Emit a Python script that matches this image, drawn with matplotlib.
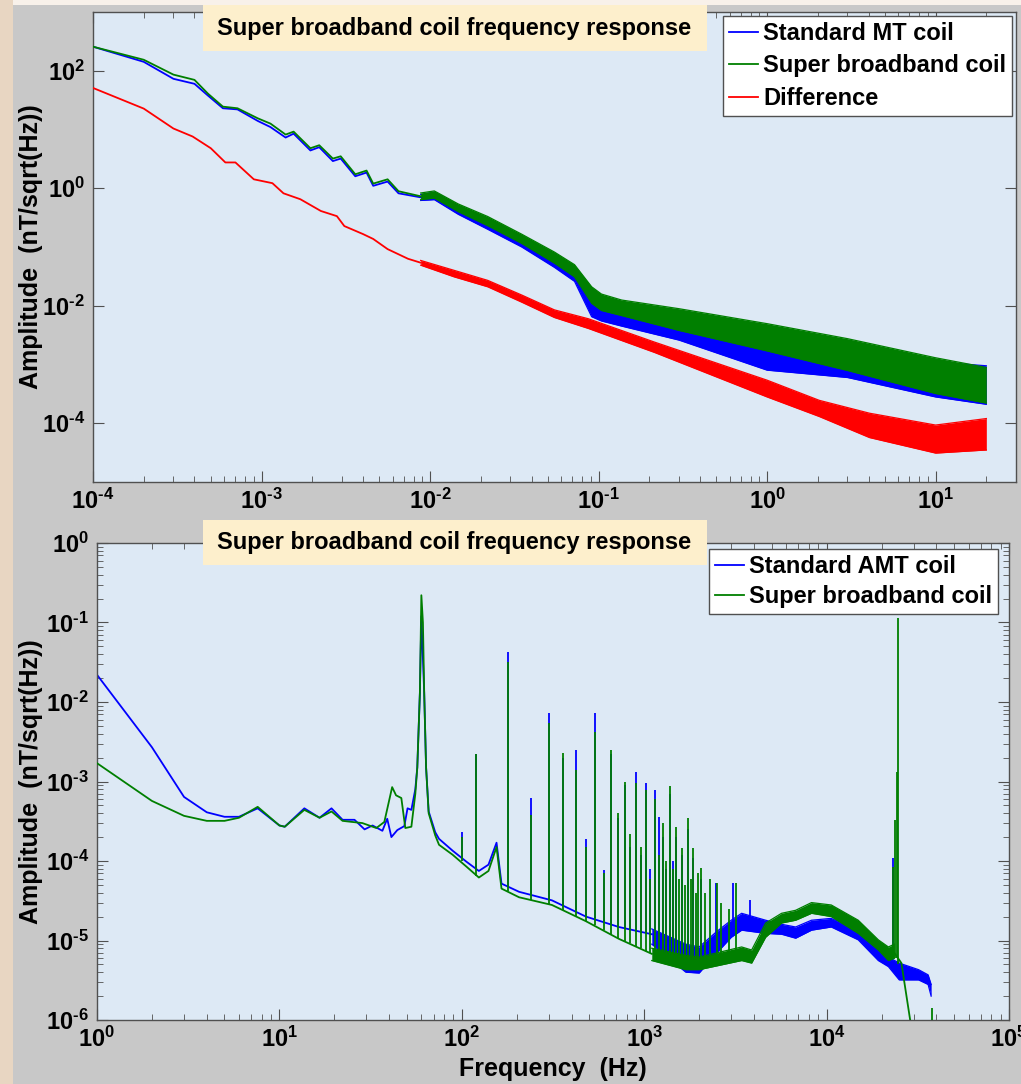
import numpy as np
import matplotlib
matplotlib.use('Agg')
import matplotlib.pyplot as plt
import matplotlib.ticker as ticker
from matplotlib.patches import Rectangle

params = {'font.family': ['Liberation Sans', 'DejaVu Sans'],
          'font.weight': 'bold',
          'font.size': 17,
          'axes.labelweight': 'bold',
          'mathtext.fontset': 'custom',
          'mathtext.rm': 'Liberation Sans:bold',
          'mathtext.bf': 'Liberation Sans:bold',
          'mathtext.it': 'Liberation Sans:bold',
          'mathtext.sf': 'Liberation Sans:bold',
          'axes.edgecolor': '#505050',
          'axes.linewidth': 1.0,
          'xtick.color': '#505050',
          'ytick.color': '#505050',
          'xtick.labelcolor': 'black',
          'ytick.labelcolor': 'black',
          'xtick.direction': 'in',
          'ytick.direction': 'in',
          'xtick.top': True,
          'ytick.right': True,
          'xtick.major.size': 8,
          'ytick.major.size': 8,
          'xtick.minor.size': 4,
          'ytick.minor.size': 4,
          'xtick.labelsize': 17,
          'ytick.labelsize': 17}
plt.rcParams.update(params)

BLUE = '#0000ff'
GREEN = '#007f00'
RED = '#ff0000'
AX_BG = '#dde9f5'
BOX_BG = '#fdefcc'

# ---- top panel: MT band, smooth low-frequency part
freq_lf = [1e-4, 2e-4, 3e-4, 4e-4, 4.8e-4, 5.9e-4, 7.2e-4, 9.5e-4, 1.13e-3, 1.39e-3,
           1.55e-3, 1.95e-3, 2.2e-3, 2.65e-3, 2.95e-3, 3.6e-3, 4.2e-3, 4.6e-3,
           5.6e-3, 6.5e-3, 8.8e-3]
mt_lf = [257, 142, 73, 60, 38, 23, 22, 14, 11, 7.3, 8.5, 4.4, 5.0, 2.9, 3.2, 1.6,
         1.85, 1.1, 1.3, 0.82, 0.70]
sbb_lf = [257, 154, 86, 70, 41, 24.5, 23, 15.5, 12.6, 8.2, 9.2, 4.8, 5.4, 3.2, 3.5,
          1.73, 2.0, 1.2, 1.42, 0.89, 0.73]

# noisy part above 0.01 Hz, given as lower / upper envelope
freq_hf = [8.8e-3, 0.0106, 0.0147, 0.022, 0.035, 0.0547, 0.072, 0.091, 0.104,
           0.137, 0.3, 1.0, 3.0, 10.0, 20.0]
mt_hf_lo = [0.62, 0.64, 0.36, 0.20, 0.10, 0.045, 0.026, 0.0065, 0.0055, 0.0045,
            2.6e-3, 8e-4, 6.0e-4, 2.8e-4, 2.1e-4]
mt_hf_hi = [0.78, 0.86, 0.50, 0.30, 0.15, 0.072, 0.043, 0.018, 0.012, 0.009,
            6.5e-3, 3.5e-3, 2.0e-3, 1.1e-3, 9.5e-4]
sbb_hf_lo = [0.64, 0.68, 0.40, 0.23, 0.115, 0.053, 0.031, 0.011, 0.0083, 0.0068,
             3.8e-3, 1.7e-3, 7.9e-4, 3.2e-4, 2.2e-4]
sbb_hf_hi = [0.83, 0.90, 0.54, 0.33, 0.165, 0.082, 0.05, 0.021, 0.0158, 0.0125,
             8.9e-3, 4.95e-3, 2.75e-3, 1.3e-3, 8.9e-4]

diff_f = [1e-4, 2e-4, 3e-4, 3.9e-4, 5.0e-4, 6.1e-4, 7.0e-4, 9.0e-4, 1.16e-3, 1.35e-3,
          1.7e-3, 2.25e-3, 2.8e-3, 3.1e-3, 4.0e-3, 4.6e-3, 5.6e-3, 7.4e-3, 8.8e-3]
diff_a = [51, 22.7, 10.4, 7.6, 4.8, 2.75, 2.75, 1.42, 1.22, 0.82, 0.65, 0.41, 0.335,
          0.227, 0.166, 0.137, 0.092, 0.063, 0.054]
diff_hf_f = [8.8e-3, 0.0139, 0.022, 0.035, 0.0547, 0.087, 0.215, 1.0, 2.04, 4.05, 10.0, 20.0]
diff_hf_lo = [0.049, 0.031, 0.021, 0.0115, 0.0063, 0.0041, 0.0016, 2.8e-4, 1.3e-4,
              5.7e-5, 3.1e-5, 3.5e-5]
diff_hf_hi = [0.059, 0.040, 0.027, 0.0152, 0.0085, 0.006, 0.0024, 5.4e-4, 2.45e-4,
              1.48e-4, 9.3e-5, 1.2e-4]

# ---- bottom panel: AMT band, baseline below 1.1 kHz
amt_f = [1, 2, 3, 4, 5, 6, 7.6, 10, 10.7, 13.7, 16.6, 19.3, 22.2, 25.8, 29.3, 32.4,
         36.7, 39, 41.1, 44.3, 48.4, 50.4, 52.9, 55.6, 57, 58.9, 60, 62.2, 63.7,
         65.8, 71.5, 75, 89, 106, 124, 140, 155, 165, 206, 312, 479, 726, 1100]
amt_a = [0.022, 2.7e-3, 6.4e-4, 4.1e-4, 3.6e-4, 3.6e-4, 4.6e-4, 2.8e-4, 2.7e-4,
         4.6e-4, 3.5e-4, 4.6e-4, 3.3e-4, 3.3e-4, 2.5e-4, 2.8e-4, 2.4e-4, 3.4e-4,
         2.0e-4, 2.45e-4, 2.75e-4, 4.6e-4, 4.4e-4, 8e-4, 1.5e-3, 0.013, 0.12, 0.013,
         1.5e-3, 4.2e-4, 2.3e-4, 1.9e-4, 1.35e-4, 9.8e-5, 7.5e-5, 9e-5, 1.7e-4, 5.2e-5,
         4.1e-5, 3.2e-5, 2.0e-5, 1.48e-5, 1.2e-5]
sbb2_f = [1, 2, 3, 4, 5, 6, 7.6, 10, 10.7, 13.7, 16.6, 19.3, 22.2, 28.5, 34, 37.6,
          41.5, 43.6, 46.6, 49, 52.9, 55.6, 57, 58.9, 60, 61.2, 62.2, 63.7, 65.8,
          71.5, 75, 89, 106, 124, 140, 155, 165, 206, 312, 479, 726, 1100]
sbb2_a = [1.7e-3, 5.7e-4, 3.7e-4, 3.2e-4, 3.2e-4, 3.5e-4, 4.8e-4, 2.8e-4, 2.7e-4,
          4.4e-4, 3.5e-4, 4.2e-4, 3.2e-4, 3.0e-4, 2.6e-4, 3.1e-4, 8.5e-4, 6.7e-4,
          6.2e-4, 2.6e-4, 2.7e-4, 7e-4, 1.5e-3, 0.013, 0.22, 0.10, 0.013, 1.5e-3,
          4.0e-4, 2.1e-4, 1.6e-4, 1.2e-4, 8.5e-5, 6.2e-5, 7.5e-5, 1.5e-4, 4.5e-5,
          3.5e-5, 2.8e-5, 1.75e-5, 1.05e-5, 6.8e-6]

# noise bands above 1.1 kHz
amt_band_f = [1100, 1690, 2000, 2500, 3000, 3420, 4630, 5660, 6760, 8260, 10600,
              14900, 19200, 21800, 25000, 31900, 36000, 37400]
amt_band_lo = [9e-6, 4.0e-6, 3.9e-6, 7e-6, 1.1e-5, 1.35e-5, 1.23e-5, 1.2e-5, 1.07e-5,
               1.35e-5, 1.48e-5, 1.02e-5, 5.6e-6, 4.7e-6, 3.2e-6, 3.2e-6, 2.8e-6, 2.0e-6]
amt_band_hi = [1.4e-5, 9e-6, 8.3e-6, 1.3e-5, 1.8e-5, 2.2e-5, 1.8e-5, 1.6e-5, 1.48e-5,
               1.8e-5, 1.9e-5, 1.35e-5, 7.6e-6, 6.2e-6, 5.2e-6, 4.3e-6, 3.7e-6, 2.8e-6]
sbb2_band_f = [1100, 1690, 2000, 2500, 3420, 3880, 4630, 5660, 6760, 8260, 10600,
               14900, 19200, 21800, 23500]
sbb2_band_lo = [5.6e-6, 4.3e-6, 4.3e-6, 4.8e-6, 5.6e-6, 5.2e-6, 1.1e-5, 1.66e-5, 1.8e-5,
                2.2e-5, 2.0e-5, 1.23e-5, 7.6e-6, 5.6e-6, 6.0e-6]
sbb2_band_hi = [8e-6, 6.5e-6, 6.2e-6, 7.0e-6, 8.3e-6, 7.6e-6, 1.66e-5, 2.2e-5, 2.4e-5,
                3.0e-5, 2.8e-5, 1.8e-5, 1.02e-5, 8.3e-6, 9e-6]
sbb2_tail_f = [23500, 25700, 28700]
sbb2_tail_a = [7e-6, 5.2e-6, 1.0e-6]

# power-line harmonics: frequency, foot, tip
amt_spk_f = [100, 120, 180, 240, 300, 360, 420, 480, 540, 600, 660, 720, 780, 840,
             900, 960, 1020, 1080, 1140, 1200, 1260, 1320, 1380, 1440, 1500, 1620,
             1740, 1860, 2040, 2460, 3050, 3800, 23000]
amt_spk_lo = [1.1e-4, 7.7e-5, 4.8e-5, 3.8e-5, 3.3e-5, 2.8e-5, 2.4e-5, 2.0e-5, 1.9e-5,
              1.75e-5, 1.6e-5, 1.5e-5, 1.45e-5, 1.4e-5, 1.35e-5, 1.3e-5, 1.25e-5,
              1.2e-5, 1.1e-5, 1.0e-5, 9e-6, 9e-6, 9e-6, 8e-6, 8e-6, 7e-6, 6e-6, 6e-6,
              6e-6, 9e-6, 1.5e-5, 1.4e-5, 6e-6]
amt_spk_hi = [2.3e-4, 2.2e-3, 0.042, 6.2e-4, 7.2e-3, 2.0e-3, 2.5e-3, 1.9e-4, 7.2e-3,
              7.7e-5, 2.2e-3, 3.5e-4, 9e-4, 1.5e-4, 1.3e-3, 1.2e-4, 9.6e-4, 8e-5,
              7.8e-4, 3.6e-4, 2e-4, 8e-5, 7e-4, 1e-4, 2e-4, 1.2e-4, 2.5e-4, 1.1e-4,
              6e-5, 5.3e-5, 5.3e-5, 3.2e-5, 1.1e-4]
sbb2_spk_f = [100, 120, 180, 240, 300, 360, 420, 480, 540, 600, 660, 720, 780, 840,
              900, 960, 1020, 1080, 1140, 1200, 1260, 1320, 1380, 1440, 1500, 1560,
              1620, 1680, 1740, 1800, 1860, 1920, 1980, 2040, 2160, 2280, 2520, 2640,
              2900, 3180, 23000, 23800, 24200, 24700, 38000]
sbb2_spk_lo = [1.0e-4, 6.5e-5, 4.2e-5, 3.2e-5, 2.8e-5, 2.4e-5, 2.05e-5, 1.75e-5,
               1.55e-5, 1.35e-5, 1.2e-5, 1.05e-5, 9.8e-6, 9.2e-6, 8.6e-6, 8e-6,
               7.4e-6, 7e-6, 6.6e-6, 6.3e-6, 6.1e-6, 5.9e-6, 5.7e-6, 5.5e-6, 5.4e-6,
               5.2e-6, 5.2e-6, 5e-6, 5e-6, 5e-6, 5e-6, 5e-6, 5e-6, 5e-6, 5e-6, 5e-6,
               5.5e-6, 5.5e-6, 5.5e-6, 5.5e-6, 6e-6, 6e-6, 6e-6, 5e-6, 1e-6]
sbb2_spk_hi = [2.0e-4, 2.2e-3, 0.032, 3.8e-4, 5.4e-3, 2.3e-3, 1.4e-3, 1.5e-4, 4.2e-3,
               7e-5, 2.5e-3, 4.0e-4, 1.0e-3, 2.2e-4, 9.6e-4, 1.5e-4, 7.8e-4, 6e-5,
               6e-4, 1.2e-4, 3.0e-4, 1.0e-4, 8.8e-4, 8e-5, 2.7e-4, 6e-5, 1.45e-4,
               5e-5, 3.5e-4, 6e-5, 1.45e-4, 4e-5, 7e-5, 8.1e-5, 4e-5, 6e-5, 5.3e-5,
               3e-5, 2.5e-5, 5.3e-5, 8.4e-5, 3.3e-4, 1.3e-3, 0.114, 1.4e-6]


def decade_label(v, pos):
    # short hyphen in the exponent keeps the labels narrow
    e = int(round(np.log10(v)))
    s = str(e).replace('-', '\u2010')
    return r'$\mathbf{10^{%s}}$' % s


def band(ax, f, lo, hi, color, z):
    ax.fill_between(f, lo, hi, color=color, lw=0, zorder=z)
    ax.plot(f, lo, color=color, lw=0.9, zorder=z)
    ax.plot(f, hi, color=color, lw=0.9, zorder=z)


def style_axes(ax):
    ax.set_facecolor(AX_BG)
    ax.set_xscale('log')
    ax.set_yscale('log')
    ax.xaxis.set_major_locator(ticker.LogLocator(base=10, numticks=20))
    ax.xaxis.set_minor_locator(ticker.LogLocator(base=10, subs=np.arange(2, 10), numticks=20))
    ax.xaxis.set_major_formatter(ticker.FuncFormatter(decade_label))
    ax.xaxis.set_minor_formatter(ticker.NullFormatter())
    ax.yaxis.set_major_formatter(ticker.FuncFormatter(decade_label))
    ax.tick_params(axis='x', which='major', pad=5)
    ax.tick_params(axis='y', which='major', pad=6)


fig = plt.figure(figsize=(10.21, 10.84), dpi=100)
fig.patch.set_facecolor('#f8f1ea')
fig.add_artist(Rectangle((0, 0), 13 / 1021, 1, transform=fig.transFigure,
                         fc='#e8d6c2', ec='none', zorder=-10))
fig.add_artist(Rectangle((13 / 1021, 0), 1 - 13 / 1021, 1 - 5 / 1084,
                         transform=fig.transFigure, fc='#c8c8c8', ec='none', zorder=-9))

# ---------------- top: MT coil
ax1 = fig.add_axes([0.0911, 0.5554, 0.904, 0.4335])
style_axes(ax1)
l1, = ax1.plot(freq_lf, mt_lf, color=BLUE, lw=1.3, zorder=2)
band(ax1, freq_hf, mt_hf_lo, mt_hf_hi, BLUE, 2)
l2, = ax1.plot(freq_lf, sbb_lf, color=GREEN, lw=1.3, zorder=3)
band(ax1, freq_hf, sbb_hf_lo, sbb_hf_hi, GREEN, 3)
l3, = ax1.plot(diff_f, diff_a, color=RED, lw=1.3, zorder=4)
band(ax1, diff_hf_f, diff_hf_lo, diff_hf_hi, RED, 4)

ax1.set_xlim(1e-4, 30)
ax1.set_ylim(1e-5, 1e3)
ax1.yaxis.set_major_locator(ticker.FixedLocator([1e-4, 1e-2, 1, 1e2]))
ax1.yaxis.set_minor_locator(ticker.NullLocator())
ax1.set_ylabel('Amplitude  (nT/sqrt(Hz))', fontsize=18, fontweight='bold')
ax1.yaxis.set_label_coords(-0.054, 0.5)
ax1.legend([l1, l2, l3], ['Standard MT coil', 'Super broadband coil', 'Difference'],
           loc='upper right', bbox_to_anchor=(0.9912, 0.9852), bbox_transform=fig.transFigure,
           prop={'weight': 'bold', 'size': 17}, fancybox=False, framealpha=1,
           edgecolor='#505050', handlelength=1.25, handletextpad=0.2, borderpad=0.25,
           labelspacing=0.4, borderaxespad=0)

# ---------------- bottom: AMT coil
ax2 = fig.add_axes([0.0950, 0.0590, 0.8933, 0.4401])
style_axes(ax2)
ax2.yaxis.set_major_locator(ticker.LogLocator(base=10, numticks=20))
ax2.yaxis.set_minor_locator(ticker.LogLocator(base=10, subs=np.arange(2, 10), numticks=20))
ax2.yaxis.set_minor_formatter(ticker.NullFormatter())

b1, = ax2.plot(amt_f, amt_a, color=BLUE, lw=1.3, zorder=2)
band(ax2, amt_band_f, amt_band_lo, amt_band_hi, BLUE, 2)
ax2.vlines(amt_spk_f, amt_spk_lo, amt_spk_hi, colors=BLUE, lw=1.3, zorder=2)

g1, = ax2.plot(sbb2_f, sbb2_a, color=GREEN, lw=1.3, zorder=3)
band(ax2, sbb2_band_f, sbb2_band_lo, sbb2_band_hi, GREEN, 3)
ax2.plot(sbb2_tail_f, sbb2_tail_a, color=GREEN, lw=1.3, zorder=3)
ax2.vlines(sbb2_spk_f, sbb2_spk_lo, sbb2_spk_hi, colors=GREEN, lw=1.3, zorder=3)

ax2.set_xlim(1, 1e5)
ax2.set_ylim(1e-6, 1)
ax2.set_ylabel('Amplitude  (nT/sqrt(Hz))', fontsize=18, fontweight='bold')
ax2.yaxis.set_label_coords(-0.059, 0.5)
ax2.set_xlabel('Frequency  (Hz)', fontsize=18, fontweight='bold')
ax2.xaxis.set_label_coords(0.5, -0.078)
ax2.legend([b1, g1], ['Standard AMT coil', 'Super broadband coil'],
           loc='upper right', bbox_to_anchor=(0.9775, 0.4935), bbox_transform=fig.transFigure,
           prop={'weight': 'bold', 'size': 17}, fancybox=False, framealpha=1,
           edgecolor='#505050', handlelength=1.25, handletextpad=0.2, borderpad=0.25,
           labelspacing=0.3, borderaxespad=0)

# title boxes sitting over the top edge of each panel
for y0, h, yc in [(1 - 51 / 1084, 46 / 1084, 1 - 28 / 1084),
                  (1 - 565 / 1084, 45 / 1084, 1 - 542.5 / 1084)]:
    fig.add_artist(Rectangle((203 / 1021, y0), 504 / 1021, h, transform=fig.transFigure,
                             fc=BOX_BG, ec='none', zorder=5))
    fig.text(454 / 1021, yc, 'Super broadband coil frequency response', ha='center',
             va='center', fontsize=17, fontweight='bold', zorder=6)

plt.savefig('out.png', dpi=100)
